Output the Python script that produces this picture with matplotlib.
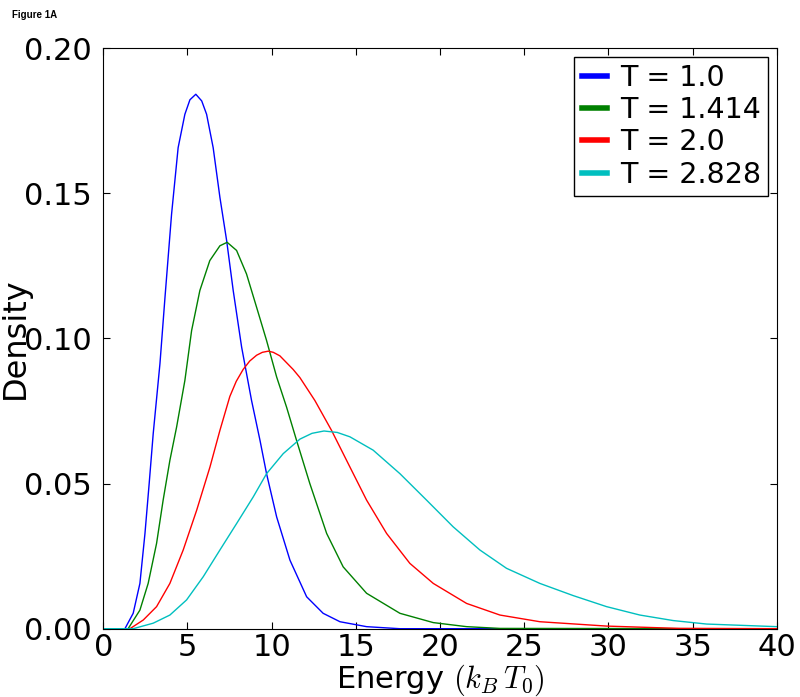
import matplotlib
matplotlib.use('Agg')
import matplotlib.pyplot as plt
import numpy as np

plt.rcParams['mathtext.fontset'] = 'cm'

# values
labels = ['T = 1.0', 'T = 1.414', 'T = 2.0', 'T = 2.828']
colors = ['#0000ff', '#008000', '#ff0000', '#00bfbf']

x_t1 = [0, 1.29, 1.78, 2.18, 2.48, 2.73, 2.97, 3.37, 3.67, 4.06, 4.45, 4.85, 5.15,
        5.50, 5.85, 6.14, 6.53, 6.93, 7.33, 7.72, 8.22, 8.81, 9.31, 9.70, 10.30,
        11.09, 12.08, 13.06, 14.06, 15.64, 17.6, 40]
y_t1 = [0, 0, 0.0053, 0.0156, 0.0328, 0.0500, 0.0672, 0.0913, 0.1142, 0.1428,
        0.1657, 0.1772, 0.1822, 0.1841, 0.1818, 0.1772, 0.1657, 0.1486, 0.1337,
        0.1165, 0.0970, 0.0786, 0.0649, 0.0534, 0.0385, 0.0236, 0.0110, 0.0053,
        0.0024, 0.0007, 0, 0]

x_t2 = [0, 1.48, 2.18, 2.67, 3.17, 3.56, 3.96, 4.36, 4.85, 5.25, 5.74, 6.33, 6.93,
        7.36, 7.92, 8.51, 9.11, 9.70, 10.30, 10.89, 11.48, 12.27, 13.27, 14.25,
        15.64, 17.62, 19.60, 21.58, 23.56, 40]
y_t2 = [0, 0, 0.0064, 0.0156, 0.0294, 0.0443, 0.0580, 0.0695, 0.0855, 0.1027,
        0.1165, 0.1268, 0.1319, 0.1331, 0.1303, 0.1222, 0.1107, 0.0993, 0.0867,
        0.0763, 0.0649, 0.0500, 0.0328, 0.0213, 0.0122, 0.0053, 0.0021, 0.0007,
        0.0001, 0]

x_t3 = [0, 1.59, 2.38, 3.17, 3.96, 4.75, 5.55, 6.34, 6.93, 7.52, 7.90, 8.31, 8.70,
        9.11, 9.45, 9.80, 10.10, 10.49, 11.28, 11.68, 12.57, 13.56, 14.65, 15.64,
        16.83, 18.21, 19.60, 21.58, 23.56, 25.93, 29.89, 34.2, 40]
y_t3 = [0, 0, 0.0030, 0.0076, 0.0156, 0.0271, 0.0408, 0.0557, 0.0683, 0.0800,
        0.0852, 0.0893, 0.0922, 0.0942, 0.0952, 0.0956, 0.0952, 0.0940, 0.0893,
        0.0865, 0.0786, 0.0683, 0.0557, 0.0443, 0.0328, 0.0225, 0.0156, 0.0087,
        0.0047, 0.0024, 0.0009, 0.0001, 0]

x_t4 = [0, 1.78, 2.97, 3.96, 4.95, 5.94, 6.93, 7.92, 8.91, 9.70, 10.69, 11.68, 12.40,
        13.11, 13.90, 14.65, 16.03, 17.62, 19.20, 20.78, 22.37, 23.95, 25.93,
        27.91, 29.89, 31.87, 33.85, 35.83, 40]
y_t4 = [0, 0, 0.0019, 0.0047, 0.0099, 0.0179, 0.0271, 0.0362, 0.0454, 0.0534,
        0.0603, 0.0653, 0.0673, 0.0681, 0.0676, 0.0661, 0.0615, 0.0534, 0.0443,
        0.0351, 0.0271, 0.0208, 0.0156, 0.0114, 0.0076, 0.0047, 0.0028, 0.0016,
        0.0007]

xs = [x_t1, x_t2, x_t3, x_t4]
ys = [y_t1, y_t2, y_t3, y_t4]

fig = plt.figure(figsize=(8, 6.97), dpi=100)
ax = fig.add_axes([0.129, 0.098, 0.842, 0.833])

for x, y, c, lab in zip(xs, ys, colors, labels):
    ax.plot(x, y, color=c, lw=1.0, label=lab)

ax.set_xlim(0, 40)
ax.set_ylim(0, 0.20)
ax.set_xticks(np.arange(0, 41, 5))
ax.set_yticks([0, 0.05, 0.10, 0.15, 0.20])
ax.set_yticklabels(['0.00', '0.05', '0.10', '0.15', '0.20'])
ax.tick_params(direction='in', top=True, right=True, length=5, labelsize=22)
ax.tick_params(axis='y', pad=8)
ax.tick_params(axis='x', pad=3)

ax.set_xlabel(r'Energy $(k_B\,T_0)$', fontsize=22)
ax.xaxis.label.set_va('center')
ax.xaxis.set_label_coords(0.5, -0.088)
ax.set_ylabel('Density', fontsize=23)
ax.yaxis.label.set_va('center')
ax.yaxis.set_label_coords(-0.131, 0.5)

leg = ax.legend(loc='upper right', fontsize=20.5, handlelength=0.9, handletextpad=0.45,
                borderaxespad=0.3, borderpad=0.25, labelspacing=0.15, fancybox=False,
                framealpha=1)
leg.get_frame().set_edgecolor('black')
for line in leg.get_lines():
    line.set_linewidth(4)

fig.text(0.015, 0.985, 'Figure 1A', fontsize=7, fontweight='bold',
         family='Liberation Sans', va='top', ha='left')

fig.savefig('out.png', dpi=100)
